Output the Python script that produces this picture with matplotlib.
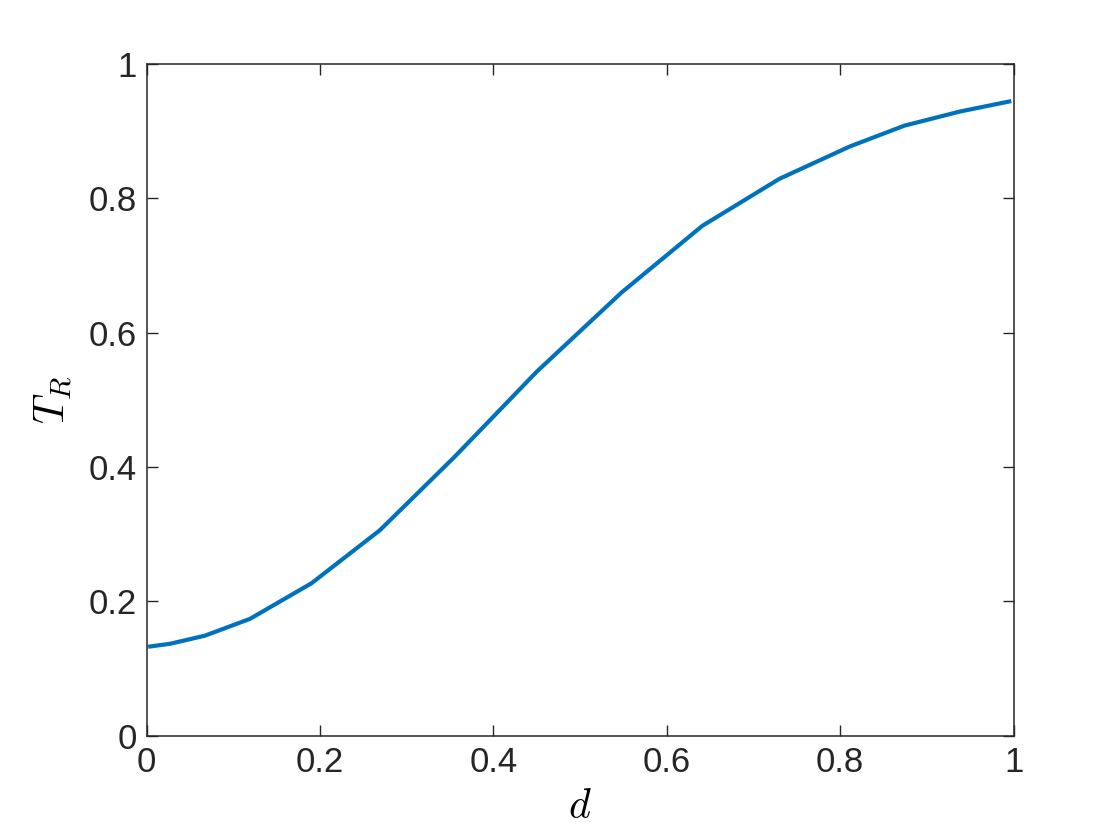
import matplotlib
matplotlib.use("Agg")
import matplotlib.pyplot as plt

# values
d = [0.004, 0.027, 0.067, 0.119, 0.190, 0.269, 0.355, 0.450, 0.548, 0.641, 0.730, 0.811, 0.874, 0.938, 0.995]
T_R = [0.133, 0.137, 0.149, 0.174, 0.227, 0.306, 0.415, 0.542, 0.660, 0.759, 0.829, 0.877, 0.908, 0.929, 0.944]

plt.rcParams['font.family'] = ['Liberation Sans', 'DejaVu Sans']
plt.rcParams['mathtext.fontset'] = 'cm'

fig = plt.figure(figsize=(11.2, 8.4), dpi=100)
ax = fig.add_axes([0.131, 0.124, 0.774, 0.800])

ax.plot(d, T_R, color="#0072bd", linewidth=3)

ax.set_xlim(0, 1)
ax.set_ylim(0, 1)
ax.set_xticks([0, 0.2, 0.4, 0.6, 0.8, 1])
ax.set_xticklabels(["0", "0.2", "0.4", "0.6", "0.8", "1"])
ax.set_yticks([0, 0.2, 0.4, 0.6, 0.8, 1])
ax.set_yticklabels(["0", "0.2", "0.4", "0.6", "0.8", "1"])
ax.tick_params(direction="in", length=8, width=1, labelsize=25, colors="#262626",
               top=True, right=True, pad=7)
for s in ax.spines.values():
    s.set_color("#262626")
    s.set_linewidth(1.1)

ax.set_xlabel(r"$d$", fontsize=30, labelpad=6)
ax.set_ylabel(r"$T_R$", fontsize=30, labelpad=10)

fig.savefig("out.png", dpi=100)
